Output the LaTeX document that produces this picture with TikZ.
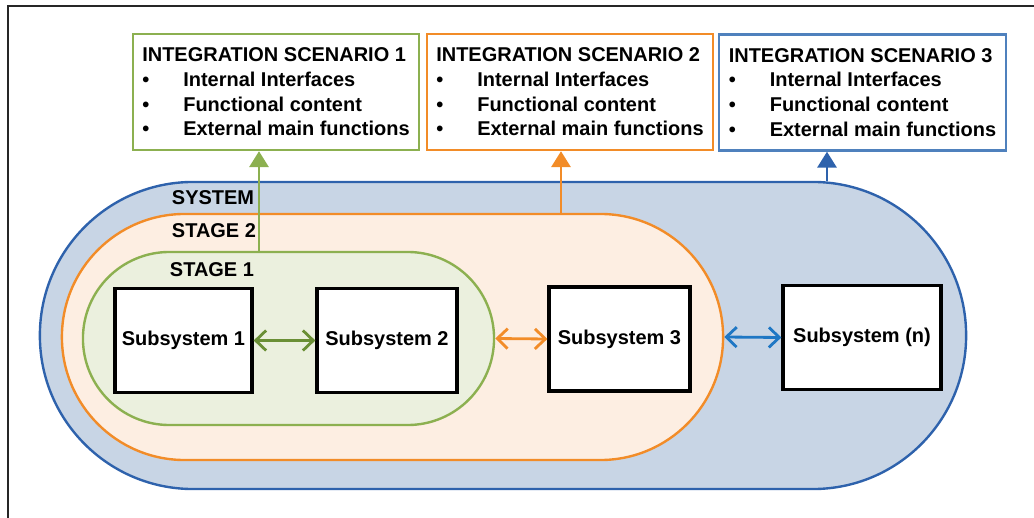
\documentclass[tikz,border=0pt]{standalone}
\usepackage{fontspec}
\setmainfont{Liberation Sans}
\usetikzlibrary{arrows.meta}
\definecolor{sysblue}{HTML}{2E62AC}
\definecolor{sysfill}{HTML}{C8D5E5}
\definecolor{scnblue}{HTML}{4F81BD}
\definecolor{linkblue}{HTML}{1F77C4}
\definecolor{stgorange}{HTML}{F28C28}
\definecolor{stgorangefill}{HTML}{FDEEE2}
\definecolor{stggreen}{HTML}{8CB050}
\definecolor{stggreenfill}{HTML}{EBF0DE}
\definecolor{linkgreen}{HTML}{6A8F35}
\newcommand{\itm}[1]{\makebox[1.025cm][l]{\textbullet}#1}
\begin{document}
\begin{tikzpicture}[x=0.025cm, y=-0.025cm,
    every node/.style={font=\fontsize{14.2}{17.6}\selectfont\bfseries},
    stage/.style={draw, line width=1.7pt, inner sep=0pt},
    subsys/.style={draw, line width=2.3pt, fill=white, minimum height=2.6cm, inner sep=0pt},
    scenario/.style={draw, line width=1.7pt, fill=white, align=left, minimum width=7.15cm, minimum height=2.9cm, inner sep=0pt},
    uparrow/.style={line width=1.9pt, -{Triangle[width=0.48cm, length=0.4cm]}},
    link/.style={line width=2pt, {Straight Barb[length=0.26cm, width=0.5cm]}-{Straight Barb[length=0.26cm, width=0.5cm]}}]
    \useasboundingbox (0,0) rectangle (1034,518);
    % Frame
    \draw[line width=1pt, black!85] (8,518) -- (8,6) -- (1034,6);

    % Nested stages
    \node[stage, draw=sysblue, fill=sysfill, minimum width=23.15cm, minimum height=7.675cm, rounded corners=3.83cm] (system) at (503,335.5) {};
    \node[stage, draw=stgorange, fill=stgorangefill, minimum width=16.525cm, minimum height=6.15cm, rounded corners=3.07cm] (stage2) at (392.5,337) {};
    \node[stage, draw=stggreen, fill=stggreenfill, minimum width=10.275cm, minimum height=4.325cm, rounded corners=2.16cm] (stage1) at (288.5,338.5) {};
    \node[anchor=west] (systemlbl) at (167,198) {SYSTEM};
    \node[anchor=west] (stage2lbl) at (167,231) {STAGE 2};
    \node[anchor=west] (stage1lbl) at (165,270) {STAGE 1};

    % Subsystems
    \node[subsys, minimum width=3.425cm] (sub1) at (183.5,340.5) {Subsystem 1};
    \node[subsys, minimum width=3.5cm] (sub2) at (387,340.5) {Subsystem 2};
    \node[subsys, minimum width=3.525cm] (sub3) at (619.5,339) {Subsystem 3};
    \node[subsys, minimum width=3.95cm] (subn) at (862,337.5) {Subsystem (n)};
    \draw[link, linkgreen] (sub1.east) -- (sub2.west);
    \draw[link, stgorange] (stage1.east) -- (sub3.west);
    \draw[link, linkblue] (stage2.east) -- (subn.west);

    % Integration scenarios
    \node[scenario, draw=stggreen] (scn1) at (276,92) {INTEGRATION SCENARIO 1\\ \itm{Internal Interfaces}\\ \itm{Functional content}\\ \itm{External main functions}};
    \node[scenario, draw=stgorange] (scn2) at (570,92) {INTEGRATION SCENARIO 2\\ \itm{Internal Interfaces}\\ \itm{Functional content}\\ \itm{External main functions}};
    \node[scenario, draw=scnblue, minimum width=7.175cm] (scn3) at (862.5,92.5) {INTEGRATION SCENARIO 3\\ \itm{Internal Interfaces}\\ \itm{Functional content}\\ \itm{External main functions}};
    \coordinate (up1) at (259,0);
    \coordinate (up2) at (561,0);
    \coordinate (up3) at (827,0);
    \draw[uparrow, stggreen] (stage1.north -| up1) -- (scn1.south -| up1);
    \draw[uparrow, stgorange] (stage2.north -| up2) -- (scn2.south -| up2);
    \draw[uparrow, sysblue] (system.north -| up3) -- (scn3.south -| up3);
\end{tikzpicture}
\end{document}
